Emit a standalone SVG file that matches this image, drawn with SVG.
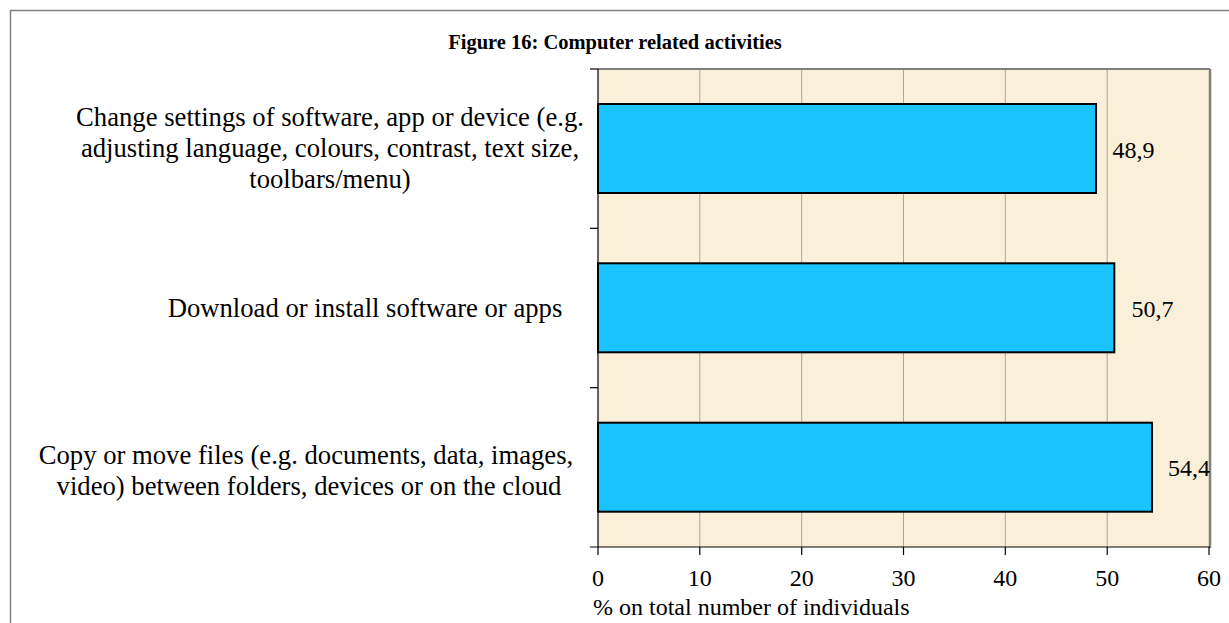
<svg xmlns="http://www.w3.org/2000/svg" width="1229" height="623" viewBox="0 0 1229 623">
<style>
text{font-family:"Liberation Serif","Times New Roman",serif;fill:#000}
.title{font-size:20.5px;font-weight:bold}
.cat{font-size:26.67px;text-anchor:middle}
.val{font-size:24px}
.tick{font-size:24px;text-anchor:middle}
.axt{font-size:24px}
.grid{stroke:#a6a6a6;stroke-width:1}
.bar{fill:#1bc3ff;stroke:#000;stroke-width:2}
.tk{stroke:#000;stroke-width:1.2}
</style>
<rect x="10.5" y="10.5" width="1240" height="640" fill="#fff" stroke="#808080" stroke-width="1.5"/>
<g id="title"><text class="title" x="615" y="49" text-anchor="middle">Figure 16: Computer related activities</text></g>
<g id="plot">
<rect x="598" y="69" width="611" height="478" fill="#faefd9"/>
<g id="gridlines">
<line class="grid" x1="699.8" y1="69" x2="699.8" y2="547"/>
<line class="grid" x1="801.7" y1="69" x2="801.7" y2="547"/>
<line class="grid" x1="903.5" y1="69" x2="903.5" y2="547"/>
<line class="grid" x1="1005.3" y1="69" x2="1005.3" y2="547"/>
<line class="grid" x1="1107.2" y1="69" x2="1107.2" y2="547"/>
</g>
<line x1="598" y1="69" x2="1210" y2="69" stroke="#7f7f7f" stroke-width="2"/>
<line x1="1210" y1="69" x2="1210" y2="548" stroke="#7f7f7f" stroke-width="2.5"/>
</g>
<g id="bar1"><rect class="bar" x="598" y="104" width="498" height="89"/><text class="val" x="1112.5" y="158">48,9</text></g>
<g id="bar2"><rect class="bar" x="598" y="263.3" width="516.3" height="89"/><text class="val" x="1131.5" y="317">50,7</text></g>
<g id="bar3"><rect class="bar" x="598" y="422.7" width="554" height="89"/><text class="val" x="1168" y="476">54,4</text></g>
<g id="axes">
<line class="tk" x1="598" y1="69" x2="598" y2="555"/>
<line class="tk" x1="590" y1="547" x2="1210" y2="547"/>
<line class="tk" x1="590" y1="69" x2="598" y2="69"/>
<line class="tk" x1="590" y1="228.3" x2="598" y2="228.3"/>
<line class="tk" x1="590" y1="387.7" x2="598" y2="387.7"/>
<line class="tk" x1="699.8" y1="547" x2="699.8" y2="555"/>
<line class="tk" x1="801.7" y1="547" x2="801.7" y2="555"/>
<line class="tk" x1="903.5" y1="547" x2="903.5" y2="555"/>
<line class="tk" x1="1005.3" y1="547" x2="1005.3" y2="555"/>
<line class="tk" x1="1107.2" y1="547" x2="1107.2" y2="555"/>
<line class="tk" x1="1209" y1="547" x2="1209" y2="555"/>
<text class="tick" x="598" y="586">0</text>
<text class="tick" x="699.8" y="586">10</text>
<text class="tick" x="801.7" y="586">20</text>
<text class="tick" x="903.5" y="586">30</text>
<text class="tick" x="1005.3" y="586">40</text>
<text class="tick" x="1107.2" y="586">50</text>
<text class="tick" x="1209" y="586">60</text>
<text class="axt" x="593" y="615">% on total number of individuals</text>
</g>
<g id="cat1">
<text class="cat" x="330" y="126">Change settings of software, app or device (e.g.</text>
<text class="cat" x="330" y="157">adjusting language, colours, contrast, text size,</text>
<text class="cat" x="330" y="188">toolbars/menu)</text>
</g>
<g id="cat2"><text class="cat" x="365" y="317">Download or install software or apps</text></g>
<g id="cat3">
<text class="cat" x="306" y="464">Copy or move files (e.g. documents, data, images,</text>
<text class="cat" x="309" y="495">video) between folders, devices or on the cloud</text>
</g>
</svg>
